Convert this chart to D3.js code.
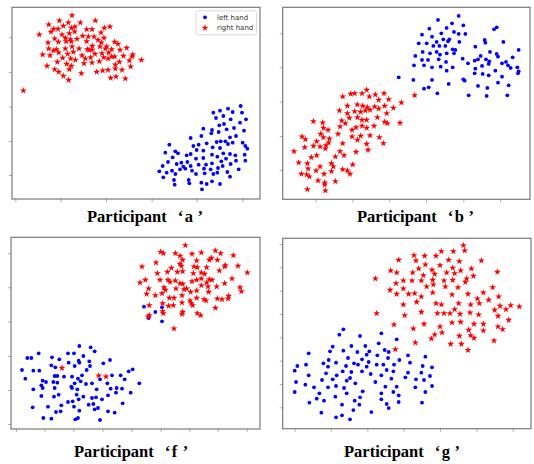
<!DOCTYPE html>
<html>
<head>
<meta charset="utf-8">
<script src="https://cdn.jsdelivr.net/npm/d3@7"></script>
<style>
  body { margin: 0; background: #fff; }
</style>
</head>
<body>
<script>
// embedding coordinates, one array per participant / hand
var aLeft = [[72.2,-31.8],[73.8,-35.8],[66.0,-33.2],[68.4,-32.6],[64.0,-33.8],[69.8,-33.6],[72.6,-33.8],[67.0,-34.8],[69.2,-35.8],[64.8,-35.4],[72.0,-36.8],[61.0,-38.6],[63.6,-39.0],[65.8,-37.6],[67.2,-37.2],[68.0,-38.8],[70.2,-38.4],[73.2,-39.2],[57.2,-41.4],[60.4,-40.8],[63.4,-40.0],[65.6,-39.6],[70.8,-40.8],[74.2,-44.6],[73.6,-43.8],[69.0,-41.2],[67.6,-42.4],[66.2,-42.4],[65.0,-42.6],[62.0,-43.0],[59.6,-43.4],[58.0,-43.8],[50.8,-43.4],[49.6,-45.8],[52.6,-45.4],[53.4,-46.0],[56.0,-46.6],[57.2,-46.2],[59.0,-45.0],[61.0,-45.2],[63.8,-44.2],[66.0,-44.4],[68.4,-43.2],[69.8,-42.8],[72.8,-42.8],[51.8,-47.2],[50.4,-48.6],[54.4,-48.8],[56.2,-48.6],[58.8,-47.6],[61.0,-47.4],[63.6,-46.4],[65.2,-47.0],[67.0,-46.0],[69.0,-46.2],[70.6,-46.6],[73.4,-46.4],[48.8,-49.8],[53.0,-49.2],[55.0,-50.0],[57.2,-49.8],[59.6,-49.4],[61.8,-49.4],[63.6,-49.0],[66.4,-48.4],[67.8,-47.6],[69.2,-49.2],[70.8,-48.2],[73.6,-48.2],[47.8,-51.4],[50.0,-51.8],[51.6,-51.2],[54.0,-50.8],[55.6,-50.6],[57.6,-51.2],[61.2,-50.6],[63.2,-50.8],[65.4,-50.4],[66.8,-49.8],[68.2,-51.6],[71.6,-50.8],[49.0,-53.2],[52.6,-52.2],[58.8,-52.2],[61.4,-52.0],[64.0,-52.2],[65.2,-51.8],[69.0,-53.0],[52.2,-54.0],[56.6,-54.0],[60.4,-54.8],[62.0,-55.2],[63.6,-54.4],[66.0,-55.2],[52.4,-55.4],[56.8,-55.0],[60.6,-56.8]];
var aRight = [[21.6,-4.6],[17.8,-6.2],[14.6,-7.4],[19.0,-7.8],[20.5,-6.8],[24.1,-6.8],[28.6,-6.2],[22.5,-8.0],[21.4,-8.4],[16.1,-8.7],[17.4,-8.7],[15.3,-9.6],[11.8,-10.4],[18.6,-10.4],[20.8,-10.0],[26.0,-8.8],[27.6,-8.8],[31.3,-8.4],[33.0,-8.0],[30.3,-9.8],[22.4,-9.5],[19.6,-11.4],[21.1,-11.8],[23.1,-11.7],[24.8,-10.8],[26.5,-11.0],[28.2,-11.0],[29.4,-12.0],[31.2,-11.4],[16.4,-11.6],[14.4,-12.8],[17.5,-12.6],[19.8,-12.4],[21.4,-12.4],[26.0,-12.4],[27.7,-13.8],[30.4,-12.8],[32.0,-14.0],[34.4,-12.6],[35.4,-13.2],[14.6,-14.6],[16.0,-15.2],[16.9,-14.8],[19.6,-14.6],[21.6,-14.0],[23.7,-14.6],[26.2,-14.8],[27.6,-15.0],[30.0,-14.0],[31.6,-14.6],[33.5,-14.8],[36.0,-15.0],[38.0,-14.4],[12.8,-16.4],[15.0,-16.6],[17.6,-15.8],[20.3,-16.2],[22.0,-15.6],[24.6,-16.6],[26.7,-15.0],[28.5,-16.2],[30.6,-16.0],[32.6,-15.8],[34.4,-17.0],[37.0,-16.8],[39.6,-17.0],[39.8,-16.4],[42.4,-18.0],[18.8,-17.4],[21.2,-17.6],[22.6,-18.0],[25.6,-17.6],[27.2,-17.2],[29.8,-18.4],[31.1,-17.2],[32.4,-17.6],[33.5,-17.0],[35.8,-18.6],[38.8,-18.2],[14.1,-19.8],[17.2,-18.6],[20.0,-19.2],[21.4,-19.8],[25.2,-19.0],[27.6,-18.8],[34.6,-19.4],[36.6,-21.0],[39.2,-20.0],[16.4,-20.8],[17.6,-21.6],[20.8,-20.8],[24.4,-22.0],[29.0,-21.6],[30.8,-21.2],[32.4,-21.0],[34.6,-20.6],[19.0,-22.8],[20.6,-24.0],[33.2,-23.4],[34.8,-23.0],[37.6,-23.6],[7.0,-27.2]];

var bLeft = [[56.6,-4.8],[50.4,-6.0],[54.6,-7.0],[47.8,-8.6],[53.0,-8.4],[58.0,-7.6],[51.4,-10.0],[45.6,-10.4],[48.6,-11.0],[55.2,-9.6],[56.6,-10.2],[58.6,-10.2],[68.0,-8.2],[67.2,-8.8],[44.6,-13.0],[47.0,-13.0],[50.0,-12.6],[52.0,-11.8],[53.8,-11.8],[53.4,-12.4],[56.8,-12.6],[49.0,-13.8],[50.8,-13.8],[52.6,-13.8],[54.8,-14.8],[55.6,-15.0],[64.4,-12.0],[64.6,-12.8],[61.6,-14.0],[70.0,-12.6],[45.8,-15.6],[48.0,-16.0],[50.0,-15.6],[51.0,-16.4],[53.0,-16.0],[55.2,-16.0],[43.6,-16.8],[45.6,-18.0],[47.4,-18.0],[50.6,-17.8],[52.8,-18.6],[57.8,-17.6],[59.4,-19.0],[63.2,-16.8],[66.0,-15.6],[68.0,-16.2],[68.4,-17.0],[74.6,-15.0],[72.8,-17.2],[61.4,-18.2],[62.4,-17.8],[64.8,-17.8],[65.8,-18.4],[70.8,-18.6],[43.2,-19.6],[46.2,-19.6],[48.6,-20.2],[51.2,-20.0],[53.0,-21.2],[54.8,-20.2],[61.6,-20.6],[63.6,-19.8],[65.6,-19.2],[69.6,-19.0],[71.4,-19.6],[72.2,-20.4],[74.2,-20.2],[74.6,-21.4],[74.4,-22.0],[61.4,-22.0],[63.8,-22.2],[65.6,-22.6],[67.6,-21.2],[69.6,-23.0],[58.0,-23.8],[58.4,-24.2],[48.6,-24.0],[43.0,-24.0],[38.6,-23.2],[53.6,-25.2],[47.6,-26.2],[46.2,-26.6],[50.2,-28.0],[62.4,-25.8],[65.2,-26.4],[68.4,-24.8],[71.6,-25.6],[59.6,-28.6],[65.0,-28.8],[71.2,-28.6]];
var bRight = [[29.0,-27.0],[24.2,-28.2],[25.4,-28.0],[27.6,-28.0],[29.8,-29.0],[31.6,-28.4],[34.2,-28.0],[21.8,-29.0],[32.6,-30.0],[35.6,-29.8],[43.4,-28.6],[23.2,-31.8],[26.2,-31.4],[27.8,-31.8],[29.2,-32.2],[31.4,-32.0],[32.6,-32.6],[34.4,-31.8],[37.0,-32.4],[39.4,-30.8],[20.8,-33.2],[23.2,-34.0],[25.4,-33.4],[27.2,-33.6],[28.6,-33.2],[30.0,-33.0],[35.0,-34.0],[21.5,-36.2],[23.8,-35.4],[26.2,-35.2],[27.6,-36.0],[29.0,-36.0],[32.2,-35.2],[13.0,-36.4],[15.8,-36.8],[34.4,-36.6],[35.2,-37.0],[39.0,-36.9],[16.0,-38.4],[17.4,-39.0],[21.0,-38.0],[22.6,-37.0],[24.6,-39.0],[25.8,-38.2],[27.6,-37.8],[29.0,-38.4],[31.2,-37.8],[9.6,-41.0],[10.6,-41.8],[15.2,-40.2],[16.0,-41.2],[17.8,-41.6],[20.4,-40.2],[24.6,-41.0],[27.2,-40.8],[30.0,-40.6],[32.8,-41.2],[14.0,-42.4],[13.0,-43.8],[17.6,-42.8],[16.8,-43.6],[29.0,-43.2],[34.0,-43.0],[21.8,-43.0],[10.4,-44.2],[15.0,-44.0],[16.6,-44.6],[21.0,-45.4],[26.2,-42.0],[29.4,-45.0],[7.2,-45.4],[14.0,-46.6],[12.4,-47.2],[19.6,-47.0],[22.2,-46.6],[25.8,-45.6],[8.6,-48.8],[11.2,-49.0],[18.4,-49.0],[19.0,-50.0],[24.8,-49.4],[11.4,-50.6],[15.0,-50.0],[13.8,-51.2],[18.4,-51.4],[21.8,-50.8],[23.2,-51.2],[24.0,-52.2],[9.4,-52.2],[11.0,-52.4],[11.8,-53.0],[16.2,-52.2],[14.4,-54.2],[16.4,-54.8],[16.4,-55.4],[19.6,-54.4],[11.2,-56.8],[16.6,-57.2]];

var fLeft = [[43.2,-23.0],[46.6,-24.6],[48.6,-23.2],[44.6,-26.4],[48.6,-27.4],[23.8,-34.8],[27.2,-35.2],[28.4,-36.4],[11.6,-37.0],[8.2,-38.4],[9.4,-38.4],[15.6,-38.2],[17.8,-38.8],[20.4,-37.0],[22.2,-37.0],[25.0,-37.8],[23.6,-39.2],[26.8,-39.4],[33.0,-39.0],[6.6,-42.0],[10.0,-42.2],[11.8,-42.2],[15.4,-40.6],[16.6,-41.2],[20.6,-39.8],[22.4,-40.8],[23.8,-39.8],[27.0,-40.8],[31.0,-40.0],[39.8,-41.8],[38.6,-42.4],[7.6,-44.6],[12.8,-45.2],[16.4,-43.8],[17.2,-43.8],[19.2,-44.0],[21.6,-44.0],[23.4,-44.6],[24.6,-43.6],[26.0,-42.0],[33.6,-43.6],[36.2,-43.6],[37.4,-44.8],[13.8,-45.6],[16.0,-45.6],[17.2,-45.8],[21.4,-47.0],[22.4,-46.0],[24.2,-45.4],[25.8,-46.2],[27.6,-46.0],[30.0,-44.8],[32.2,-46.0],[12.4,-46.6],[35.0,-47.4],[36.6,-47.6],[41.8,-46.0],[10.0,-47.8],[12.8,-47.4],[16.4,-47.4],[21.6,-47.4],[23.2,-47.8],[29.0,-47.8],[33.2,-47.6],[34.8,-48.8],[39.2,-48.8],[12.4,-49.8],[16.2,-50.0],[17.6,-49.4],[23.0,-49.4],[25.0,-50.0],[27.6,-50.4],[28.8,-50.2],[32.4,-49.6],[23.6,-50.8],[20.4,-51.6],[21.8,-51.4],[26.6,-52.4],[28.0,-52.2],[30.6,-50.8],[36.8,-52.0],[9.8,-53.2],[14.4,-53.0],[18.4,-52.6],[22.2,-53.0],[29.4,-53.4],[32.4,-54.4],[34.4,-54.8],[16.8,-54.6],[18.2,-54.4],[23.8,-54.2],[28.4,-53.8],[13.0,-56.4],[15.4,-56.6],[22.6,-56.8],[23.4,-56.4],[30.0,-57.0]];
var fRight = [[55.6,-4.6],[48.2,-6.6],[49.0,-7.0],[52.6,-7.0],[54.0,-7.8],[57.6,-7.2],[60.4,-6.8],[64.6,-6.2],[66.2,-7.0],[70.0,-7.6],[54.8,-9.0],[59.0,-9.2],[62.8,-9.0],[63.4,-8.4],[65.2,-9.0],[42.6,-11.0],[46.8,-9.8],[51.4,-11.4],[54.0,-10.2],[54.4,-10.8],[58.2,-11.0],[59.2,-11.2],[62.0,-11.2],[67.6,-10.6],[67.4,-11.0],[71.4,-10.8],[47.2,-13.0],[50.2,-12.6],[53.2,-12.6],[54.8,-12.4],[58.0,-13.0],[60.4,-12.8],[61.4,-13.2],[65.8,-12.2],[74.2,-12.8],[43.6,-15.0],[42.0,-15.8],[48.0,-15.0],[50.4,-15.0],[51.0,-15.6],[52.6,-15.2],[54.0,-16.0],[54.8,-16.2],[57.6,-15.4],[59.0,-15.0],[60.4,-14.6],[62.0,-15.8],[62.8,-14.8],[63.6,-15.0],[67.4,-16.0],[69.6,-14.6],[49.2,-17.2],[49.6,-18.0],[52.8,-17.6],[55.2,-17.8],[56.0,-17.6],[57.2,-18.6],[59.0,-18.2],[60.4,-16.6],[62.4,-17.0],[62.6,-18.6],[65.0,-17.0],[72.0,-17.2],[72.4,-18.4],[44.6,-17.6],[44.0,-19.2],[46.6,-19.6],[48.6,-19.0],[50.8,-20.4],[52.2,-20.4],[54.6,-19.6],[57.0,-21.2],[59.0,-20.4],[61.2,-20.8],[61.8,-21.2],[65.2,-20.6],[66.6,-20.8],[68.4,-20.6],[68.6,-19.8],[44.8,-22.6],[48.8,-22.0],[50.6,-22.8],[52.0,-22.6],[54.6,-21.8],[57.4,-22.0],[57.8,-22.6],[64.6,-23.4],[44.8,-25.6],[44.4,-26.0],[48.8,-24.4],[49.0,-25.0],[54.8,-24.6],[54.6,-25.2],[59.2,-25.0],[60.2,-25.6],[52.2,-29.6],[18.6,-41.4],[29.6,-43.7],[31.8,-44.0]];

var gLeft = [[22.0,-29.8],[20.8,-31.4],[27.0,-31.8],[33.4,-31.0],[32.6,-34.0],[38.0,-32.8],[24.4,-34.8],[18.8,-35.0],[28.6,-34.8],[18.0,-36.4],[22.0,-36.2],[26.2,-36.6],[29.8,-36.4],[34.4,-36.0],[35.6,-36.6],[11.6,-37.0],[23.4,-38.4],[27.6,-38.8],[29.0,-37.4],[32.2,-37.6],[35.4,-38.4],[38.8,-39.0],[41.4,-37.6],[46.6,-38.0],[16.0,-40.0],[17.6,-39.0],[19.8,-39.8],[26.4,-40.4],[29.6,-39.6],[32.0,-40.4],[34.0,-40.4],[37.2,-40.4],[8.2,-40.8],[10.8,-40.4],[17.4,-41.0],[22.8,-40.8],[25.2,-40.0],[29.0,-41.0],[42.0,-39.8],[45.8,-40.8],[48.6,-41.2],[7.4,-42.2],[16.8,-43.0],[21.8,-42.4],[24.4,-42.6],[27.6,-42.4],[35.0,-42.0],[37.0,-42.4],[41.4,-42.8],[45.4,-42.8],[11.6,-43.6],[20.0,-43.6],[24.0,-44.4],[30.2,-43.2],[33.4,-43.6],[36.4,-44.6],[40.6,-44.2],[48.0,-43.8],[15.6,-45.0],[18.8,-44.8],[23.0,-45.2],[25.6,-46.0],[31.6,-45.6],[43.8,-44.8],[46.2,-45.0],[7.8,-45.6],[10.6,-46.4],[13.2,-47.2],[17.4,-47.2],[19.8,-46.8],[22.2,-47.4],[34.6,-47.0],[38.0,-47.0],[43.6,-47.2],[48.6,-46.8],[7.4,-48.6],[14.8,-49.0],[16.2,-51.2],[23.0,-49.0],[27.8,-48.4],[33.4,-49.0],[37.0,-48.6],[38.6,-49.6],[46.6,-48.6],[14.0,-50.6],[19.6,-50.0],[25.4,-51.2],[27.0,-50.2],[33.4,-50.8],[38.6,-51.6],[11.8,-51.8],[21.6,-52.4],[26.8,-52.4],[35.0,-52.2],[35.6,-53.4],[45.6,-51.8],[25.0,-54.0],[15.4,-54.8],[30.4,-54.6],[19.8,-56.2],[21.6,-55.6],[24.0,-56.8]];
var gRight = [[58.0,-4.6],[58.4,-6.2],[51.4,-6.4],[55.0,-6.4],[49.8,-7.8],[43.2,-7.6],[46.4,-7.8],[43.8,-9.2],[38.6,-9.0],[53.6,-9.0],[56.8,-9.4],[63.4,-9.2],[68.2,-12.6],[46.6,-10.4],[44.6,-11.6],[48.6,-12.0],[51.0,-10.6],[54.8,-11.4],[55.4,-13.0],[57.2,-12.2],[60.4,-11.6],[36.2,-12.2],[38.0,-12.8],[42.8,-12.8],[46.0,-13.6],[49.4,-13.2],[53.0,-12.8],[61.0,-13.8],[31.6,-14.6],[40.0,-15.2],[42.6,-15.2],[45.4,-15.2],[48.8,-15.0],[52.2,-15.2],[54.8,-15.0],[58.6,-15.6],[37.8,-16.0],[47.0,-17.0],[49.0,-16.4],[52.6,-17.0],[56.4,-17.2],[59.0,-14.6],[66.8,-17.2],[36.0,-18.0],[40.0,-17.6],[41.6,-19.2],[38.0,-19.2],[43.4,-19.0],[48.8,-18.8],[54.6,-19.4],[59.4,-19.2],[64.0,-18.8],[65.6,-21.0],[62.2,-20.6],[62.8,-22.0],[40.0,-22.4],[44.0,-21.6],[45.4,-20.0],[49.8,-22.0],[51.4,-22.4],[56.6,-22.0],[60.2,-22.4],[60.0,-24.8],[68.6,-20.0],[69.0,-22.8],[67.4,-24.0],[70.8,-23.8],[72.2,-22.6],[74.8,-23.0],[55.4,-23.8],[52.2,-25.0],[54.0,-25.0],[50.2,-25.0],[45.4,-24.6],[57.0,-25.2],[62.6,-25.4],[40.4,-25.6],[32.0,-25.0],[37.2,-28.4],[43.0,-29.6],[46.2,-28.2],[51.0,-29.0],[54.6,-27.8],[57.2,-27.6],[61.2,-28.2],[64.0,-28.2],[68.4,-25.8],[71.6,-27.0],[51.6,-30.8],[49.4,-31.4],[48.4,-32.6],[56.8,-31.8],[60.2,-31.6],[61.2,-32.4],[59.6,-30.0],[64.0,-30.2],[68.4,-29.0],[69.8,-29.8],[43.6,-33.8],[54.2,-34.2],[57.4,-34.2],[59.4,-36.0],[67.2,-33.2],[37.6,-35.8]];

// axis extents and tick values (no tick labels in the figure)
var aDomX = [3.6, 78.0], aDomY = [-59.7, -2.2];
var bDomX = [3.8, 78.0], bDomY = [-59.8, -2.2];
var fDomX = [3.3, 78.0], fDomY = [-59.7, -2.2];
var gDomX = [3.8, 78.3], gDomY = [-59.6, -2.5];
var aTicksX = [4.6, 18.2, 31.8, 45.5, 59.0, 72.7], aTicksY = [-11.2, -21.6, -32.0, -42.3, -52.5];
var bTicksX = [13.7, 24.7, 35.8, 46.8, 58.0, 69.0], bTicksY = [-10.0, -20.2, -30.5, -40.8, -51.0];
var fTicksX = [4.8, 13.3, 22.0, 30.7, 39.5, 48.2, 56.8, 65.3, 74.0], fTicksY = [-7.0, -17.2, -27.5, -37.8, -48.0, -58.2];
var gTicksX = [7.4, 18.2, 29.2, 40.0, 51.0, 62.0, 72.8], gTicksY = [-4.2, -11.2, -18.2, -25.2, -32.2, -39.2, -46.2, -53.2];

var seriesNames = ["left hand", "right hand"];
var participants = ["a", "b", "f", "g"];

// layout of the four panels (pixels)
var panels = [
  { id: "a", left: aLeft, right: aRight, domX: aDomX, domY: aDomY, tx: aTicksX, ty: aTicksY, x0: 12, x1: 260, y0: 7.3, y1: 199, tX: 87, tY: 222, legend: true },
  { id: "b", left: bLeft, right: bRight, domX: bDomX, domY: bDomY, tx: bTicksX, ty: bTicksY, x0: 282.7, x1: 530, y0: 7.3, y1: 199.3, tX: 357, tY: 222 },
  { id: "f", left: fLeft, right: fRight, domX: fDomX, domY: fDomY, tx: fTicksX, ty: fTicksY, x0: 11, x1: 260, y0: 237.3, y1: 429, tX: 74, tY: 457 },
  { id: "g", left: gLeft, right: gRight, domX: gDomX, domY: gDomY, tx: gTicksX, ty: gTicksY, x0: 282.7, x1: 531, y0: 238.3, y1: 428.7, tX: 344, tY: 457 }
];

var blue = "#0000ff", red = "#ff0000";
var star = d3.symbol().type(d3.symbolStar).size(15);

var svg = d3.select("body").append("svg")
  .attr("width", 534)
  .attr("height", 464)
  .style("font-family", "'DejaVu Sans', sans-serif");

panels.forEach(function (p) {
  var x = d3.scaleLinear().domain(p.domX).range([p.x0, p.x1]);
  var y = d3.scaleLinear().domain(p.domY).range([p.y1, p.y0]);
  var g = svg.append("g").attr("class", "panel-" + p.id);

  // ticks, outward, no labels
  var xAxis = d3.axisBottom(x).tickValues(p.tx).tickFormat("").tickSizeInner(3).tickSizeOuter(0);
  var yAxis = d3.axisLeft(y).tickValues(p.ty).tickFormat("").tickSizeInner(3).tickSizeOuter(0);
  g.append("g").attr("transform", "translate(0," + p.y1 + ")").call(xAxis);
  g.append("g").attr("transform", "translate(" + p.x0 + ",0)").call(yAxis);
  g.selectAll(".domain").remove();
  g.selectAll(".tick line").attr("stroke", "#999").attr("stroke-width", 0.8);

  g.append("rect")
    .attr("x", p.x0).attr("y", p.y0)
    .attr("width", p.x1 - p.x0).attr("height", p.y1 - p.y0)
    .attr("fill", "none")
    .attr("stroke", "#7a7a7a")
    .attr("stroke-width", 1.2);

  g.selectAll(".dot")
    .data(p.left)
    .enter()
    .append("circle")
    .attr("class", "dot")
    .attr("cx", function (d) { return x(d[0]); })
    .attr("cy", function (d) { return y(d[1]); })
    .attr("r", 1.9)
    .attr("fill", blue);

  g.selectAll(".star")
    .data(p.right)
    .enter()
    .append("path")
    .attr("class", "star")
    .attr("d", star)
    .attr("transform", function (d) { return "translate(" + x(d[0]) + "," + y(d[1]) + ")"; })
    .attr("fill", red);

  var title = g.append("text")
    .attr("x", p.tX)
    .attr("y", p.tY)
    .style("font-family", "'Liberation Serif', 'Times New Roman', serif")
    .style("font-weight", "bold")
    .style("font-size", "16.5px")
    .attr("fill", "#000");
  title.append("tspan").text("Participant");
  title.append("tspan").attr("dx", 11).text("\u2018");
  title.append("tspan").attr("dx", 1.5).text(p.id);
  title.append("tspan").attr("dx", 4.5).text("\u2019");

  if (p.legend) {
    var lg = g.append("g").attr("transform", "translate(" + (p.x1 - 64) + "," + (p.y0 + 3.5) + ")");
    lg.append("rect")
      .attr("width", 60.5).attr("height", 24)
      .attr("rx", 2)
      .attr("fill", "#fff")
      .attr("stroke", "#d0d0d0")
      .attr("stroke-width", 0.8);
    var items = lg.selectAll(".item")
      .data(seriesNames)
      .enter()
      .append("g")
      .attr("class", "item")
      .attr("transform", function (d, i) { return "translate(9," + (6.5 + i * 10.5) + ")"; });
    items.each(function (d, i) {
      var it = d3.select(this);
      if (i === 0) {
        it.append("circle").attr("r", 1.9).attr("fill", blue);
      } else {
        it.append("path").attr("d", star).attr("fill", red);
      }
    });
    items.append("text")
      .attr("x", 12)
      .attr("dy", "0.35em")
      .style("font-size", "7px")
      .attr("fill", "#333")
      .text(function (d) { return d; });
  }
});
</script>
</body>
</html>
